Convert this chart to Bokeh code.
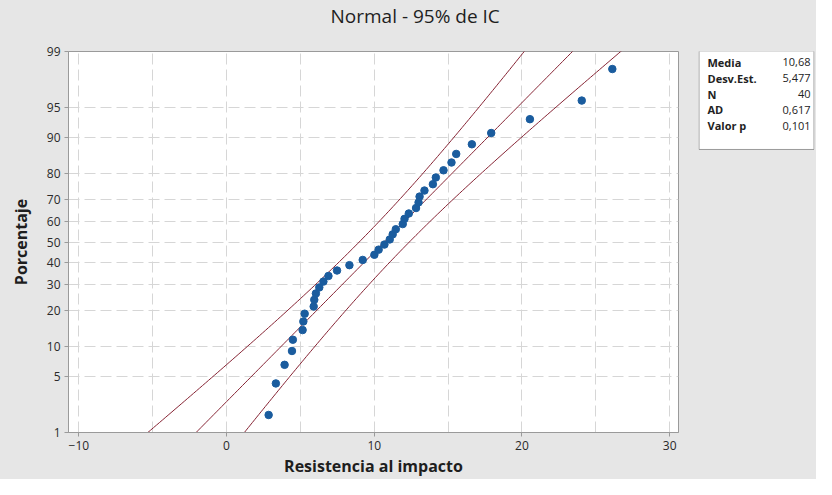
from statistics import NormalDist
import numpy as np
from bokeh.plotting import figure
from bokeh.layouts import row
from bokeh.models import Range1d, FixedTicker, CustomJSTickFormatter, Title
from bokeh.embed import file_html
from bokeh.resources import INLINE
from bokeh.core.properties import value

# ---------------- data ----------------
resistencia = [2.85, 3.34, 3.93, 4.43, 4.49, 5.15, 5.20, 5.29, 5.90, 5.94,
               6.05, 6.28, 6.56, 6.90, 7.48, 8.32, 9.22, 10.01, 10.30, 10.69,
               11.05, 11.25, 11.46, 11.93, 12.05, 12.34, 12.83, 13.00, 13.07, 13.40,
               13.97, 14.17, 14.69, 15.23, 15.55, 16.61, 17.92, 20.54, 24.05, 26.12]
media = 10.68
desv_est = 5.477
n_obs = 40
stat_names = ["Media", "Desv.Est.", "N", "AD", "Valor p"]
stat_values = ["10,68", "5,477", "40", "0,617", "0,101"]
pct_ticks = [1, 5, 10, 20, 30, 40, 50, 60, 70, 80, 90, 95, 99]
x_ticks = [-10, 0, 10, 20, 30]
x_grid = [-10, -5, 0, 5, 10, 15, 20, 25, 30]
title_text = "Normal - 95% de IC"

FONT = "Open Sans"
BG = "#E6E6E6"
nd = NormalDist()

# plotting positions (median ranks, as Minitab uses)
xs = sorted(resistencia)
n = len(xs)
pos_z = [nd.inv_cdf((i - 0.3) / (n + 0.4)) for i in range(1, n + 1)]

# fitted line and 95% CI
zz = np.linspace(-3.2, 3.2, 200)
fit = media + desv_est * zz
half = 1.96 * desv_est * np.sqrt((1 + zz ** 2 / 2) / n_obs)
lo = fit - half
hi = fit + half

y_tick_z = [nd.inv_cdf(t / 100) for t in pct_ticks]

TOP, BOTTOM, H = 50, 44, 479
LEFT, RIGHT, W = 68, 14, 692
FRAME_H = H - TOP - BOTTOM

p = figure(width=W, height=H, output_backend="svg", toolbar_location=None, title=None,
           x_range=Range1d(-10.7, 30.6),
           y_range=Range1d(nd.inv_cdf(0.01), nd.inv_cdf(0.99)),
           min_border_left=LEFT, min_border_right=RIGHT, min_border_top=TOP, min_border_bottom=BOTTOM)
p.border_fill_color = BG
p.background_fill_color = "white"
p.outline_line_color = "#9A9A9A"

# spacer (closest to the frame) then the real title further out
p.add_layout(Title(text=" ", text_font_size="1px", standoff=20), "above")
p.add_layout(Title(text=title_text, align="left", offset=262, standoff=0,
                   text_font=FONT, text_font_size="19px", text_font_style="normal",
                   text_color="#1E1E1E"), "above")

p.xaxis.ticker = FixedTicker(ticks=x_ticks)
p.yaxis.ticker = FixedTicker(ticks=y_tick_z)
p.yaxis.formatter = CustomJSTickFormatter(
    args=dict(zt=y_tick_z, lab=[str(t) for t in pct_ticks]),
    code="""
    let best = 0;
    for (let i = 0; i < zt.length; i++) {
        if (Math.abs(zt[i] - tick) < Math.abs(zt[best] - tick)) best = i;
    }
    return lab[best];
    """)
p.xgrid.ticker = FixedTicker(ticks=x_grid)
p.ygrid.ticker = FixedTicker(ticks=y_tick_z)
for g in (p.xgrid, p.ygrid):
    g.grid_line_color = "#D6D6D6"
    g.grid_line_dash = "11 5"
    g.grid_line_width = 1

for ax in (p.xaxis, p.yaxis):
    ax.axis_line_color = "#9A9A9A"
    ax.major_tick_line_color = "#9A9A9A"
    ax.major_tick_out = 4
    ax.major_tick_in = 0
    ax.minor_tick_line_color = None
    ax.major_label_text_font = FONT
    ax.major_label_text_font_size = "12px"
    ax.major_label_text_color = "#2A2A2A"
    ax.axis_label_text_font = FONT
    ax.axis_label_text_font_size = "16px"
    ax.axis_label_text_font_style = "bold"
    ax.axis_label_text_color = "#1E1E1E"
    ax.major_label_standoff = 4

p.xaxis.axis_label = "Resistencia al impacto"
p.yaxis.axis_label = "Porcentaje"
p.xaxis.axis_label_standoff = 2
p.yaxis.axis_label_standoff = 12

line_color = "#862434"
p.line(lo, zz, line_color=line_color, line_width=1)
p.line(fit, zz, line_color=line_color, line_width=1)
p.line(hi, zz, line_color=line_color, line_width=1)
p.scatter(xs, pos_z, marker="circle", size=7.5, fill_color="#1A5C9E", line_color="#1A5C9E")

# ---------------- stats box (pixel-like units inside its own frame) ----------------
BOX_W = 116
s = figure(width=124, height=H, output_backend="svg", toolbar_location=None,
           x_range=Range1d(0, BOX_W), y_range=Range1d(FRAME_H, 0),
           x_axis_location=None, y_axis_location=None,
           min_border_left=6, min_border_right=2, min_border_top=TOP, min_border_bottom=BOTTOM)
s.border_fill_color = BG
s.background_fill_color = BG
s.outline_line_color = None
s.grid.visible = False
row_h = 16
s.quad(left=[0.5], right=[BOX_W - 0.5], top=[-0.5], bottom=[row_h * len(stat_names) + 19],
       fill_color="white", line_color="#9A9A9A", line_width=1)
rows_y = [11 + row_h * i for i in range(len(stat_names))]
s.text(x=[9] * len(stat_names), y=rows_y, text=stat_names,
       text_font=value(FONT), text_font_size="11px", text_font_style="bold",
       text_baseline="middle", text_align="left", text_color="#222222")
s.text(x=[BOX_W - 4] * len(stat_values), y=rows_y, text=stat_values,
       text_font=value(FONT), text_font_size="11px", text_font_style="normal",
       text_baseline="middle", text_align="right", text_color="#222222")

layout = row(p, s, styles={"background-color": BG})
open("out.html", "w").write(file_html(layout, INLINE))
